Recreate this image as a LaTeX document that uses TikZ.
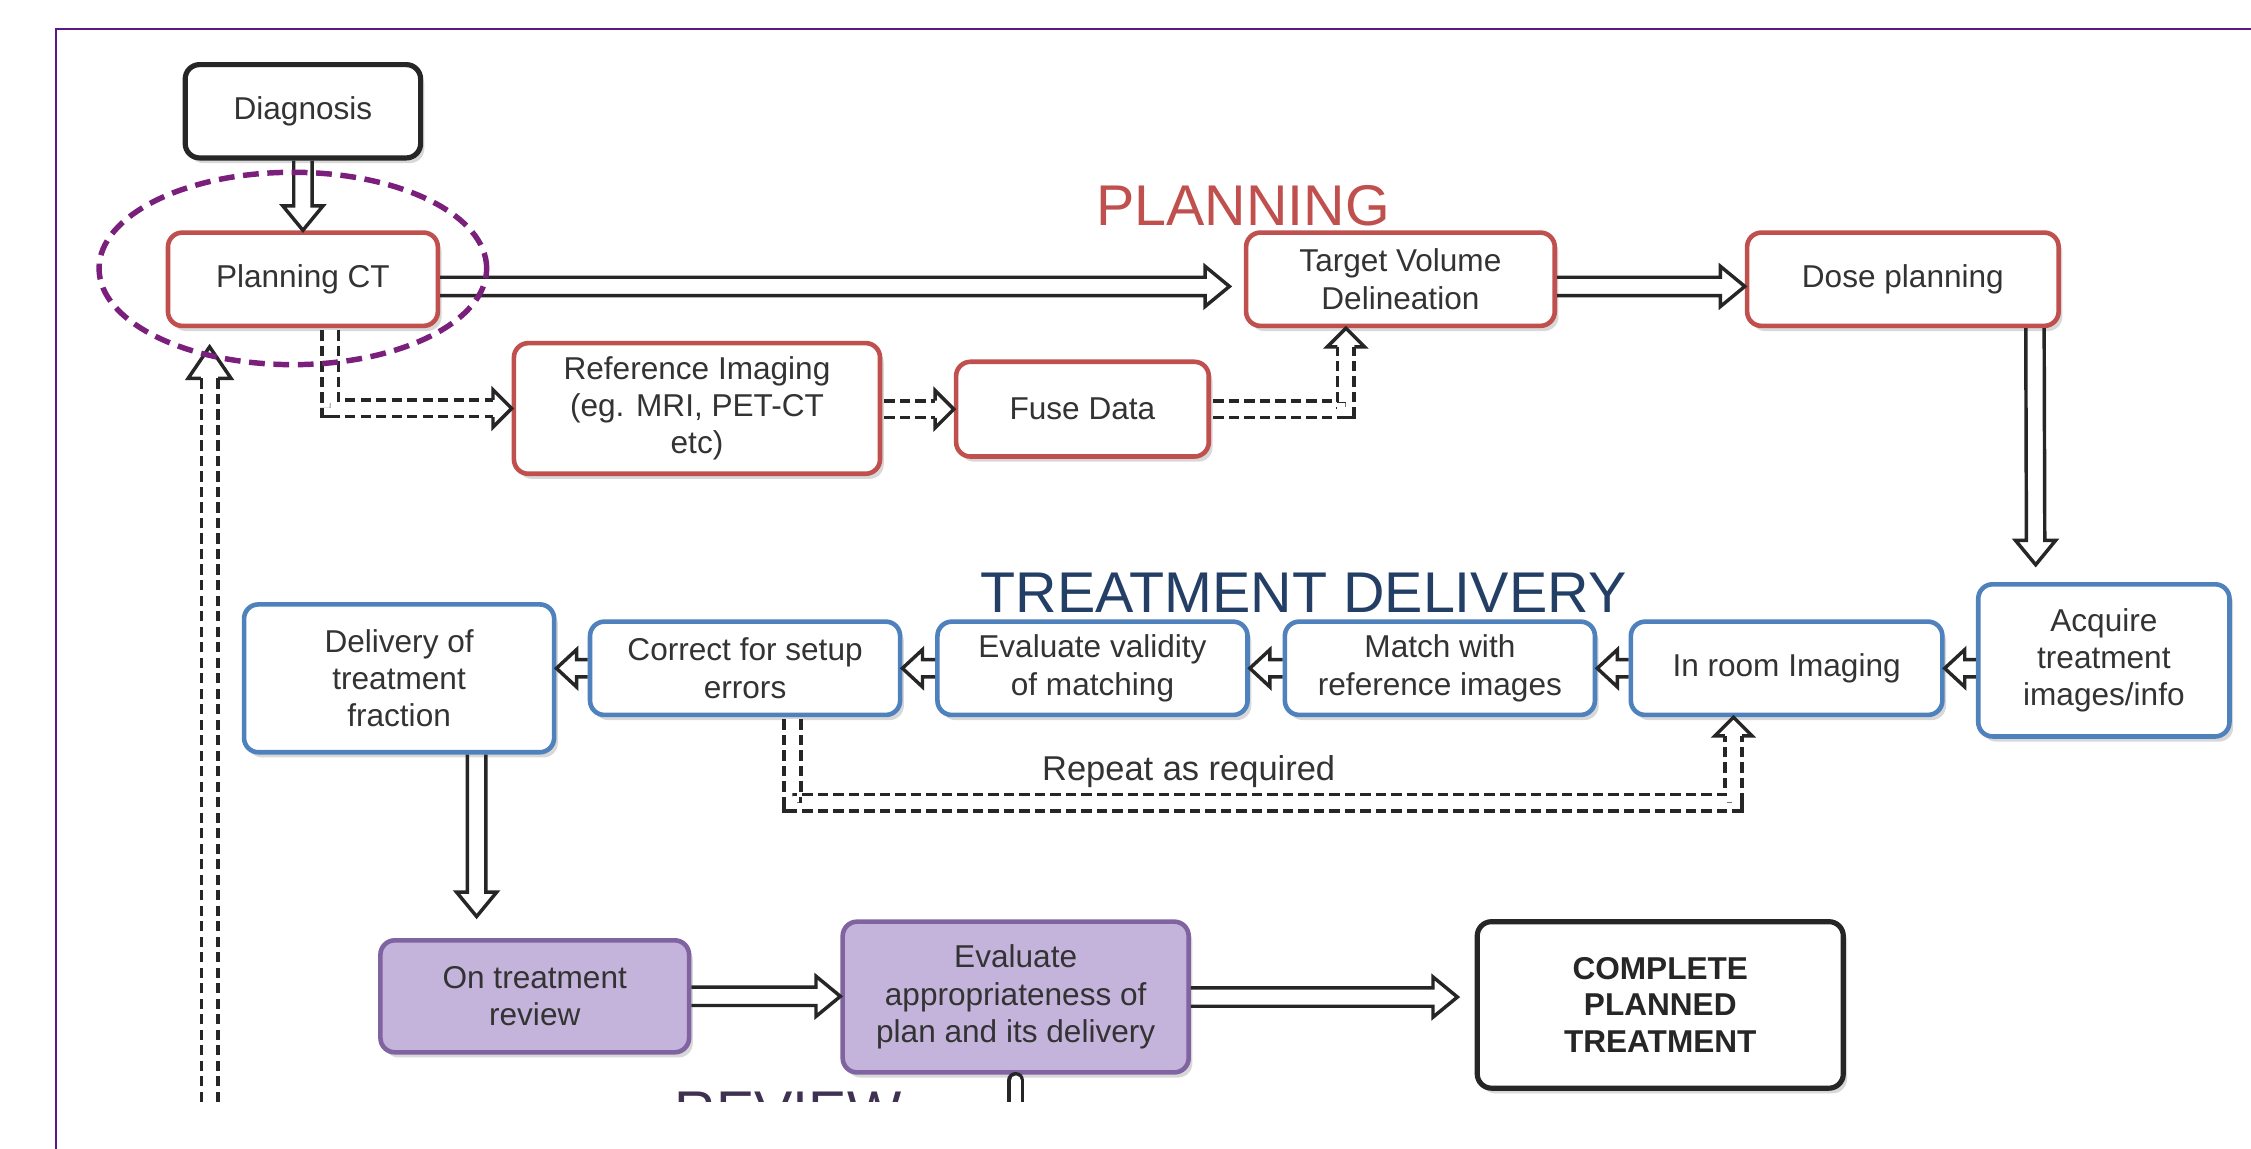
\documentclass[tikz,border=0pt]{standalone}
\usepackage{fontspec}
\setmainfont{Liberation Sans}
\usetikzlibrary{calc,shadows}

\definecolor{boxred}{HTML}{C0504D}
\definecolor{boxblue}{HTML}{4F81BD}
\definecolor{revfill}{HTML}{C4B3DA}
\definecolor{revline}{HTML}{8064A2}
\definecolor{txt}{HTML}{333333}
\definecolor{navy}{HTML}{233F66}
\definecolor{revtitle}{HTML}{3F3151}
\definecolor{framepurple}{HTML}{5B1A82}
\definecolor{ringpurple}{HTML}{7A1F7C}

\tikzset{
  % arrow geometry: half shaft gap, half head width, head length
  ahs/.code={\def\ahs{#1}}, ahw/.code={\def\ahw{#1}}, ahl/.code={\def\ahl{#1}},
  ahs=3.2pt, ahw=7pt, ahl=8.5pt,
  tipsmall/.style={ahs=3pt, ahw=6.5pt, ahl=7pt},
  tipbig/.style={ahs=3pt, ahw=7.5pt, ahl=11pt},
  box/.style={rectangle, rounded corners=5pt, align=center, text=txt,
    font=\fontsize{11}{13}\selectfont, inner sep=2pt, fill=white, line width=1.6pt,
    drop shadow={shadow xshift=1.3pt, shadow yshift=-1.8pt, opacity=0.3}},
  redbox/.style={box, draw=boxred},
  bluebox/.style={box, draw=boxblue},
  revbox/.style={box, draw=revline, fill=revfill},
  blackbox/.style={box, draw=black!85, line width=1.8pt},
  title/.style={font=\fontsize{20}{24}\selectfont},
  % hollow block arrow between two points
  harrow/.style={draw=black!85, line width=1.2pt, line join=miter, to path={
    ($(\tikztostart)!\ahs!90:(\tikztotarget)$)
    -- ($(\tikztotarget)!\ahl!(\tikztostart)!\ahs!90:(\tikztotarget)$)
    -- ($(\tikztotarget)!\ahl!(\tikztostart)!\ahw!90:(\tikztotarget)$)
    -- (\tikztotarget)
    -- ($(\tikztotarget)!\ahl!(\tikztostart)!\ahw!-90:(\tikztotarget)$)
    -- ($(\tikztotarget)!\ahl!(\tikztostart)!\ahs!-90:(\tikztotarget)$)
    -- ($(\tikztostart)!\ahs!-90:(\tikztotarget)$)}},
  % head only, from head base to tip
  headonly/.style={draw=black!85, line width=1.2pt, line join=miter, to path={
    ($(\tikztostart)!\ahs!90:(\tikztotarget)$)
    -- ($(\tikztostart)!\ahw!90:(\tikztotarget)$)
    -- (\tikztotarget)
    -- ($(\tikztostart)!\ahw!-90:(\tikztotarget)$)
    -- ($(\tikztostart)!\ahs!-90:(\tikztotarget)$)}},
  % dashed double shaft
  dshaft/.style={draw=black!85, line width=1.2pt, double=white, double distance=4.6pt,
    dash pattern=on 3.6pt off 1.8pt, line join=miter},
}

\begin{document}
\begin{tikzpicture}[x=0.5pt, y=-0.5pt]
\useasboundingbox (0,0) rectangle (1568,800);
\fill[white] (0,0) rectangle (1568,800);

\begin{scope}
\clip (40,21) rectangle (1568,767);

% ---------- planning ----------
\node[blackbox, minimum width=82pt, minimum height=32.5pt] (diag) at (211,77.5) {Diagnosis};
\node[redbox, minimum width=94pt, minimum height=32.5pt] (pct) at (211,194.5) {Planning CT};
\node[redbox, minimum width=107.5pt, minimum height=32.5pt] (tvd) at (975.5,194.5) {Target Volume\\Delineation};
\node[redbox, minimum width=108.5pt, minimum height=32.5pt] (dose) at (1325.5,194.5) {Dose planning};
\node[redbox, minimum width=127.5pt, minimum height=45.5pt] (ref) at (485.5,284.5) {Reference Imaging\\(eg. MRI, PET-CT\\etc)};
\node[redbox, minimum width=88pt, minimum height=33pt] (fuse) at (754,285) {Fuse Data};
\node[title, text=boxred] (plantitle) at (866,143) {PLANNING};

% ---------- treatment delivery ----------
\node[bluebox, minimum width=87.5pt, minimum height=53pt] (acq) at (1465.5,460) {Acquire\\treatment\\images/info};
\node[bluebox, minimum width=108.5pt, minimum height=32.5pt] (inroom) at (1244.5,465.5) {In room Imaging};
\node[bluebox, minimum width=108pt, minimum height=32.5pt] (match) at (1003,465.5) {Match with\\reference images};
\node[bluebox, minimum width=108pt, minimum height=32.5pt] (evalv) at (761,465.5) {Evaluate validity\\of matching};
\node[bluebox, minimum width=108pt, minimum height=32.5pt] (corr) at (519,465.5) {Correct for setup\\errors};
\node[bluebox, minimum width=108pt, minimum height=51.5pt] (deliv) at (278,472.5) {Delivery of\\treatment\\fraction};
\node[title, text=navy] (deltitle) at (908,413) {TREATMENT DELIVERY};
\node[text=txt, font=\fontsize{12}{14}\selectfont, anchor=base] (repeat) at (828,544) {Repeat as required};

% ---------- review ----------
\node[revbox, minimum width=107.5pt, minimum height=39pt] (onrev) at (372.5,694) {On treatment\\review};
\node[revbox, minimum width=120.5pt, minimum height=52.5pt] (evala) at (707.5,694.5) {Evaluate\\appropriateness of\\plan and its delivery};
\node[blackbox, minimum width=127.5pt, minimum height=58pt, font=\bfseries\fontsize{11}{12.75}\selectfont, text=black!85] (complete) at (1156.5,700) {COMPLETE\\PLANNED\\TREATMENT};
\node[title, text=revtitle] (revtitle) at (549,774.5) {REVIEW};

% ---------- solid connectors ----------
\draw[harrow] (diag.south) to (pct.north);
\coordinate (pctout) at ($(pct.east)+(0,5)$);
\coordinate (tvdin) at ($(tvd.west)+(-10,5)$);
\draw[harrow] (pctout) to (tvdin);
\coordinate (tvdout) at ($(tvd.east)+(0,5)$);
\coordinate (dosein) at ($(dose.west)+(0,5)$);
\draw[harrow] (tvdout) to (dosein);
\coordinate (d1) at ($(dose.south)+(92,0)$);
\coordinate (d2) at ($(acq.north)+(-47.5,-12)$);
\draw[harrow] (d1) to (d2);

\coordinate (a1) at (acq.west |- inroom.east);
\draw[harrow, tipsmall] (a1) to (inroom.east);
\draw[harrow, tipsmall] (inroom.west) to (match.east);
\draw[harrow, tipsmall] (match.west) to (evalv.east);
\draw[harrow, tipsmall] (evalv.west) to (corr.east);
\coordinate (c2) at (deliv.east |- corr.west);
\draw[harrow, tipsmall] (corr.west) to (c2);

\coordinate (v1) at ($(deliv.south)+(54,0)$);
\coordinate (v2) at ($(v1 |- onrev.north)+(0,-15)$);
\draw[harrow] (v1) to (v2);
\coordinate (o2) at (onrev.east -| evala.west);
\draw[harrow] (onrev.east) to (o2);
\coordinate (e2) at ($(evala.east -| complete.west)+(-12,0)$);
\draw[harrow] (evala.east) to (e2);

\coordinate (ev1) at ($(evala.south)+(0,4)$);
\coordinate (ev2) at (707.5,800);
\draw[draw=black!85, line width=1.2pt, double=white, double distance=3.5pt, line cap=round] (ev1) -- (ev2);

% ---------- dashed connectors ----------
\coordinate (p1) at ($(pct.south)+(19,1.5)$);
\coordinate (p2) at ($(ref.west)+(-13,0)$);
\draw[dshaft] (p1) |- (p2);
\draw[headonly, tipsmall] (p2) to (ref.west);

\coordinate (r2) at ($(fuse.west)+(-13,0)$);
\coordinate (r1) at ($(ref.east |- r2)+(1.5,0)$);
\draw[dshaft] (r1) -- (r2);
\draw[headonly, tipsmall] (r2) to (fuse.west);

\coordinate (f1) at ($(fuse.east)+(1.5,0)$);
\coordinate (f2) at ($(tvd.south)+(-38,13)$);
\coordinate (f3) at ($(tvd.south)+(-38,0)$);
\draw[dshaft] (f1) -| (f2);
\draw[headonly, tipsmall] (f2) to (f3);

\coordinate (q1) at ($(corr.south)+(33,1.5)$);
\coordinate (q2) at ($(inroom.south)+(-37,13)$);
\coordinate (q3) at ($(inroom.south)+(-37,0)$);
\draw[dshaft] (q1) -- ++(0,58) -| (q2);
\draw[headonly, tipsmall] (q2) to (q3);

\coordinate (l1) at (146,800);
\coordinate (l3) at ($(pct.south)+(-65,13)$);
\coordinate (l2) at ($(l3)+(0,22)$);
\draw[dshaft] (l1) -- (l2);
\draw[headonly, tipbig] (l2) to (l3);

% highlight ring round the planning CT step
\draw[ringpurple, line width=1.9pt, dash pattern=on 5.5pt off 3pt] (204,187) ellipse [x radius=67.5pt, y radius=33.5pt];
\end{scope}

% outer frame
\draw[framepurple, line width=0.8pt] (1570,20) -- (39,20) -- (39,802);
\end{tikzpicture}
\end{document}
